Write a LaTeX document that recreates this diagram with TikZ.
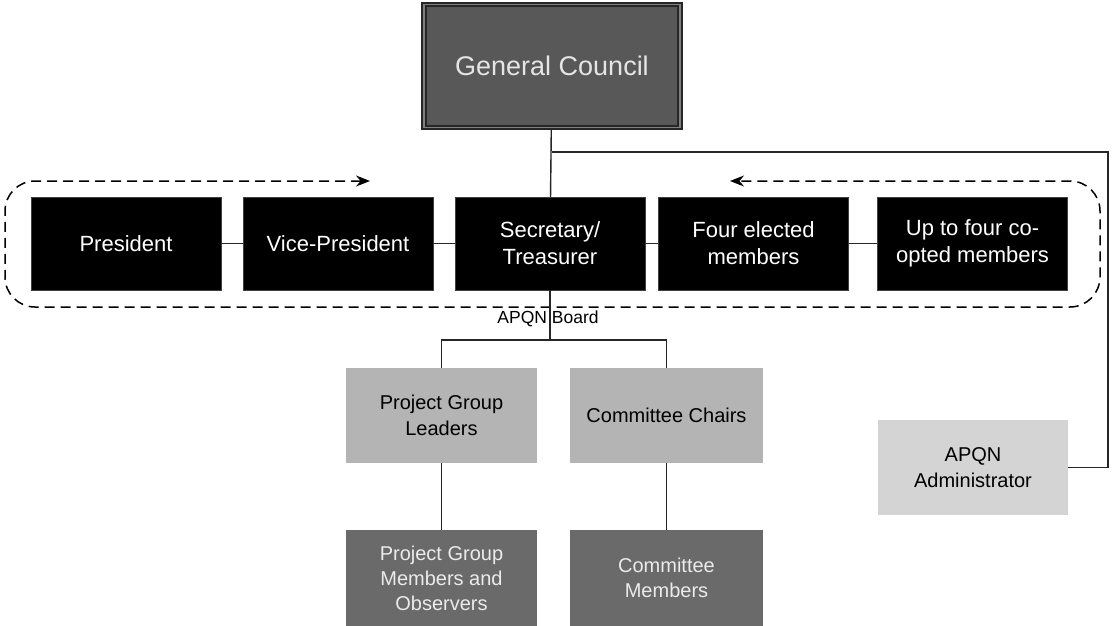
\documentclass[tikz,border=0pt]{standalone}
\usepackage{fontspec}
\setmainfont{Liberation Sans}
\usetikzlibrary{arrows.meta}
\definecolor{council}{HTML}{585858}
\definecolor{leader}{HTML}{B4B4B4}
\definecolor{member}{HTML}{6A6A6A}
\definecolor{admin}{HTML}{D4D4D4}
\begin{document}
\begin{tikzpicture}[x=1pt,y=-1pt,>={Stealth[length=14pt,width=11pt]},
  board/.style={fill=black,draw=black!75,text=white,minimum width=190pt,minimum height=93pt,align=center,inner sep=2pt,font=\fontsize{22}{27}\selectfont},
  lightbox/.style={fill=leader,text=black,minimum width=191pt,minimum height=95pt,align=center,inner sep=2pt,font=\fontsize{20}{25.5}\selectfont},
  darkbox/.style={fill=member,text=white!92!black,minimum width=191pt,minimum height=96pt,align=center,inner sep=2pt,font=\fontsize{20}{25}\selectfont},
  link/.style={line width=1.4pt,black!85}]
\useasboundingbox (0,0) rectangle (1112,626);
\fill[white] (0,0) rectangle (1112,626);
% top
\node[fill=council,draw=black!85,line width=2pt,double=black!50,double distance=1.2pt,minimum width=256pt,minimum height=123pt,text=white!90!black,font=\fontsize{27}{32}\selectfont](gc) at (552,66){General Council};
% board row
\node[board](pres) at (126,243.5){President};
\node[board](vice) at (338,243.5){Vice-President};
\node[board](sec) at (550,243.5){Secretary/\\Treasurer};
\node[board](four) at (753.5,243.5){Four elected\\members};
\node[board](coopt) at (972.5,243.5){Up to four co-\\opted members};
\draw[link](pres)--(vice);
\draw[link](vice)--(sec);
\draw[link](sec)--(four);
\draw[link](four)--(coopt);
\draw[line width=1.5pt,dash pattern=on 10pt off 6pt,rounded corners=30pt,<->](370,181)--(5,181)--(5,307)--(1100,307)--(1100,181)--(730,181);
\node[font=\fontsize{17.5}{20}\selectfont](lbl) at (548,319){APQN Board};
% groups
\node[lightbox](pgl) at (441.5,415.5){Project Group\\Leaders};
\node[lightbox,minimum width=193pt](cc) at (666.5,415.5){Committee Chairs};
\node[darkbox](pgm) at (441.5,578){Project Group\\Members and\\Observers};
\node[darkbox,minimum width=193pt](cm) at (666.5,578){Committee\\Members};
\node[lightbox,fill=admin,minimum width=190pt](adm) at (973,467.5){APQN\\Administrator};
\coordinate (split) at (550,340);
\coordinate (bend) at (1108,152);
\draw[link](gc)--(sec);
\draw[link](adm.east)-|(bend)--(gc.south|-bend);
\draw[link](sec)--(split);
\draw[link](pgl.north)|-(split)-|(cc.north);
\draw[link](pgl)--(pgm);
\draw[link](cc)--(cm);
\end{tikzpicture}
\end{document}
